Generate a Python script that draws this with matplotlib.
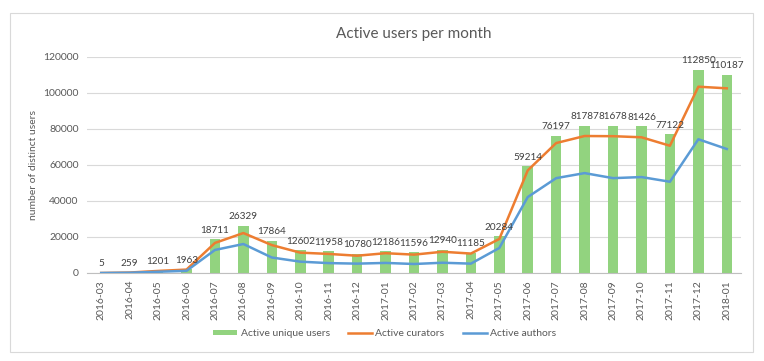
import matplotlib
matplotlib.use("Agg")
import matplotlib.pyplot as plt
from matplotlib.patches import Rectangle

plt.rcParams['font.family'] = ['Lato', 'DejaVu Sans']

months = ['2016-03', '2016-04', '2016-05', '2016-06', '2016-07', '2016-08', '2016-09',
          '2016-10', '2016-11', '2016-12', '2017-01', '2017-02', '2017-03', '2017-04',
          '2017-05', '2017-06', '2017-07', '2017-08', '2017-09', '2017-10', '2017-11',
          '2017-12', '2018-01']
unique_users = [5, 259, 1201, 1963, 18711, 26329, 17864, 12602, 11958, 10780, 12186, 11596,
                12940, 11185, 20284, 59214, 76197, 81787, 81678, 81426, 77122, 112850, 110187]
curators = [5, 250, 1150, 1900, 16700, 22200, 15500, 11300, 10600, 9600, 11000, 10200,
            11800, 10800, 18900, 57000, 72200, 76100, 76000, 75400, 70700, 103500, 102600]
authors = [3, 150, 700, 1200, 12800, 16100, 8600, 6300, 5500, 5200, 5600, 5000,
           5700, 5200, 13900, 42200, 52700, 55500, 52700, 53300, 50700, 74300, 68900]

fig = plt.figure(figsize=(7.64, 3.61), dpi=100)
fig.patches.append(Rectangle((10/764, 9/361), 743/764, 339/361, transform=fig.transFigure,
                             fill=False, edgecolor='#d9d9d9', linewidth=0.8))
ax = fig.add_axes([87/764, 88/361, 654/764, 216/361])

x = range(len(months))
ax.bar(x, unique_users, width=0.37, color='#92d37f', label='Active unique users', zorder=2)
ax.plot(x, curators, color='#ed7d31', linewidth=1.8, label='Active curators', zorder=3)
ax.plot(x, authors, color='#5b9bd5', linewidth=1.8, label='Active authors', zorder=3)

for i, v in enumerate(unique_users):
    ax.text(i, v + 2500, str(v), ha='center', va='bottom', fontsize=7.2, color='#404040')

ax.set_xlim(-0.5, len(months) - 0.5)
ax.set_ylim(0, 120000)
ax.set_yticks(range(0, 120001, 20000))
ax.set_xticks(list(x))
ax.set_xticklabels(months, rotation=90, fontsize=7.5, color='#595959')
ax.tick_params(axis='y', labelsize=7.5, labelcolor='#595959', length=0, pad=6)
ax.tick_params(axis='x', length=0, pad=5)
ax.grid(axis='y', color='#d9d9d9', linewidth=0.8, zorder=0)
for s in ['top', 'right', 'left']:
    ax.spines[s].set_visible(False)
ax.spines['bottom'].set_color('#bfbfbf')
ax.set_ylabel('number of distinct users', fontsize=7.5, color='#595959')
ax.set_title('Active users per month', fontsize=11, color='#595959', pad=14)

handles, labels = ax.get_legend_handles_labels()
order = [2, 0, 1]
fig.legend([handles[i] for i in order], [labels[i] for i in order], loc='center',
           bbox_to_anchor=(385/764, 27/361), ncol=3, frameon=False, fontsize=7.5,
           labelcolor='#595959', handlelength=2.3, handleheight=0.4,
           columnspacing=1.8, handletextpad=0.3)

fig.savefig('out.png', dpi=100, facecolor='white')
